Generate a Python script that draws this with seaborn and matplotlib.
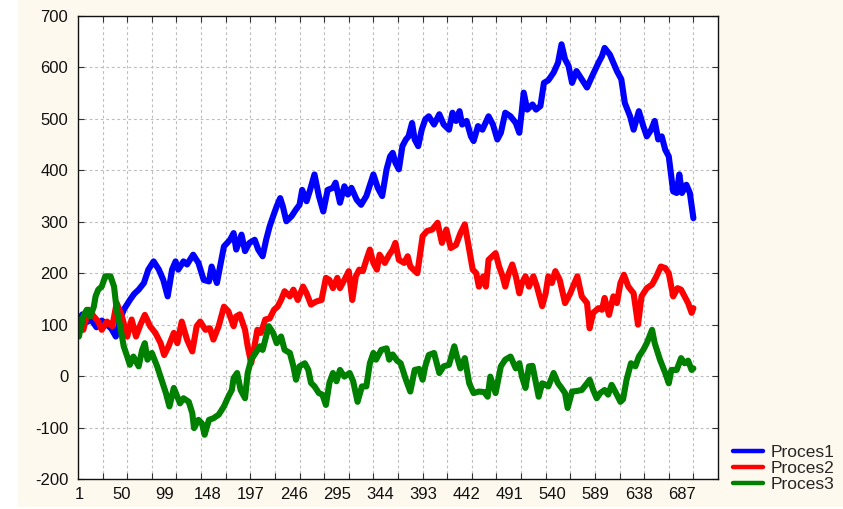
import numpy as np
import pandas as pd
import matplotlib
matplotlib.use("Agg")
import matplotlib.pyplot as plt
import seaborn as sns
from matplotlib.patches import Rectangle
from matplotlib.lines import Line2D

p1_t = [1, 5, 10, 15, 21, 27, 33, 38, 43, 48, 52, 59, 64, 69, 75, 80, 86, 92, 97, 102,
        107, 111, 114, 120, 124, 131, 137, 143, 149, 152, 158, 166, 173, 177, 180, 186, 190, 195, 201, 205,
        210, 214, 218, 222, 226, 230, 233, 237, 243, 248, 252, 255, 260, 264, 269, 274, 279, 284, 290, 293,
        298, 303, 307, 311, 317, 322, 328, 336, 341, 346, 351, 355, 358, 361, 365, 369, 373, 376, 380, 383,
        387, 391, 395, 399, 405, 411, 416, 422, 426, 430, 434, 437, 442, 447, 450, 455, 460, 467, 472, 477,
        481, 486, 492, 498, 502, 505, 507, 511, 517, 521, 526, 530, 535, 541, 546, 550, 554, 558, 562, 567,
        573, 579, 584, 592, 596, 599, 605, 609, 613, 618, 622, 628, 632, 638, 643, 647, 652, 656, 660, 664,
        668, 672, 677, 681, 684, 687, 692, 696, 700]
p1_v = [110, 120, 105, 110, 95, 108, 100, 92, 77, 110, 129, 148, 160, 168, 181, 207, 223, 207, 187, 155,
        207, 223, 207, 223, 217, 236, 220, 187, 184, 213, 181, 252, 265, 278, 246, 275, 243, 259, 265, 246,
        233, 265, 291, 311, 330, 346, 330, 301, 311, 324, 333, 362, 340, 362, 392, 350, 320, 362, 366, 376,
        337, 369, 353, 366, 343, 333, 350, 392, 366, 350, 402, 427, 434, 415, 402, 447, 460, 466, 492, 460,
        447, 479, 499, 505, 489, 509, 489, 479, 512, 496, 515, 489, 496, 466, 457, 486, 479, 505, 489, 460,
        473, 512, 505, 492, 473, 518, 551, 518, 528, 518, 525, 570, 575, 590, 609, 645, 616, 603, 570, 593,
        577, 561, 580, 609, 622, 638, 625, 609, 593, 577, 531, 505, 479, 515, 486, 466, 479, 496, 460, 466,
        440, 427, 359, 356, 392, 356, 372, 356, 307]

p2_t = [1, 6, 12, 18, 23, 27, 33, 39, 44, 50, 56, 61, 66, 71, 76, 82, 88, 94, 98, 103,
        109, 113, 118, 124, 130, 135, 139, 145, 150, 154, 160, 166, 171, 177, 180, 184, 190, 193, 197, 200,
        204, 208, 213, 218, 223, 227, 231, 235, 241, 245, 250, 256, 260, 265, 271, 277, 282, 286, 290, 295,
        298, 303, 308, 312, 316, 320, 324, 328, 332, 336, 340, 343, 349, 354, 358, 361, 365, 371, 375, 378,
        386, 392, 397, 403, 409, 414, 419, 424, 430, 435, 440, 445, 449, 453, 456, 461, 464, 467, 475, 479,
        483, 486, 490, 494, 498, 502, 505, 509, 513, 518, 522, 528, 532, 535, 539, 543, 548, 554, 560, 563,
        568, 573, 579, 582, 586, 592, 596, 599, 604, 609, 613, 617, 621, 626, 632, 637, 641, 647, 653, 658,
        663, 668, 672, 677, 682, 686, 690, 694, 698, 700]
p2_v = [110, 90, 129, 116, 106, 90, 106, 97, 142, 116, 77, 110, 77, 100, 119, 97, 84, 64, 41, 58,
        84, 64, 106, 71, 48, 97, 106, 90, 93, 71, 97, 135, 126, 97, 116, 120, 90, 58, 25, 51,
        90, 84, 110, 112, 129, 135, 148, 165, 155, 168, 148, 174, 161, 139, 145, 148, 191, 187, 171, 191,
        171, 187, 204, 148, 194, 207, 204, 226, 246, 220, 207, 236, 220, 236, 246, 259, 226, 220, 233, 213,
        200, 272, 282, 285, 298, 259, 285, 249, 255, 278, 295, 246, 207, 200, 174, 194, 174, 226, 239, 213,
        194, 174, 200, 217, 194, 161, 181, 194, 174, 194, 174, 136, 161, 194, 181, 204, 187, 142, 161, 174,
        194, 155, 142, 93, 123, 132, 129, 152, 119, 155, 142, 181, 197, 174, 161, 100, 155, 171, 178, 194,
        213, 210, 200, 155, 171, 168, 155, 142, 123, 132]

p3_t = [1, 6, 10, 14, 18, 20, 23, 27, 31, 37, 41, 44, 48, 52, 56, 59, 63, 69, 73, 76,
        79, 84, 90, 95, 100, 104, 109, 113, 116, 120, 126, 130, 132, 137, 141, 144, 149, 154, 160, 166,
        171, 175, 177, 181, 185, 190, 193, 197, 202, 207, 210, 214, 217, 222, 226, 231, 235, 241, 245, 248,
        252, 258, 262, 265, 269, 274, 278, 282, 286, 290, 294, 298, 303, 309, 313, 318, 323, 328, 332, 336,
        339, 345, 351, 354, 358, 363, 367, 373, 378, 383, 388, 392, 395, 399, 405, 411, 416, 422, 428, 431,
        435, 440, 445, 450, 456, 462, 466, 469, 475, 481, 486, 492, 498, 502, 505, 509, 513, 517, 521, 524,
        528, 531, 535, 541, 546, 550, 554, 557, 562, 567, 573, 579, 582, 586, 590, 594, 599, 603, 607, 612,
        617, 620, 624, 629, 634, 638, 643, 647, 653, 656, 662, 668, 672, 675, 681, 686, 690, 694, 698, 700]
p3_v = [77, 116, 129, 116, 135, 155, 168, 174, 194, 194, 174, 129, 97, 58, 38, 22, 38, 19, 51, 64,
        32, 45, 19, -7, -33, -59, -23, -40, -53, -43, -50, -72, -101, -85, -92, -114, -85, -82, -75, -59,
        -40, -27, -4, 6, -27, -43, 6, 32, 45, 58, 51, 77, 97, 84, 64, 77, 51, 45, 19, -7,
        19, 25, 12, -13, -20, -33, -36, -56, -13, 6, -10, 12, -1, 6, -10, -50, -20, -20, 25, 45,
        32, 51, 54, 32, 42, 30, 25, -7, -30, 12, 14, -7, 19, 41, 45, 6, 19, 22, 58, 38,
        15, 35, -14, -33, -30, -31, -40, -1, -33, 19, 32, 38, 15, 25, -1, -23, 19, 20, -14, -40,
        -14, -16, -20, 6, -14, -23, -33, -62, -30, -29, -27, -14, -7, -27, -43, -33, -27, -36, -17, -33,
        -50, -45, -7, 25, 19, 38, 51, 64, 90, 64, 32, 6, -14, 12, 12, 35, 25, 30, 12, 15]

series_names = ["Proces1", "Proces2", "Proces3"]
series_colors = ["#0000FF", "#FF0000", "#008000"]
xtick_labels = [1, 50, 99, 148, 197, 246, 295, 344, 393, 442, 491, 540, 589, 638, 687]
ytick_values = [-200, -100, 0, 100, 200, 300, 400, 500, 600, 700]

df = pd.concat([
    pd.DataFrame({"t": p1_t, "value": p1_v, "series": "Proces1"}),
    pd.DataFrame({"t": p2_t, "value": p2_v, "series": "Proces2"}),
    pd.DataFrame({"t": p3_t, "value": p3_v, "series": "Proces3"}),
], ignore_index=True)

sns.set_style("white")
plt.rcParams["font.family"] = ["Liberation Sans", "DejaVu Sans"]

W, H = 843, 509
fig = plt.figure(figsize=(W / 100, H / 100), dpi=100, facecolor="white")
fig.patches.append(Rectangle((18 / W, 1 - 507 / H), 1 - 18 / W, 507 / H,
                             transform=fig.transFigure, facecolor="#FEF9EE",
                             edgecolor="none", zorder=-10))
ax = fig.add_axes([78 / W, 1 - 479 / H, (718 - 78) / W, (479 - 16) / H])
ax.set_facecolor("white")

sns.lineplot(data=df, x="t", y="value", hue="series", hue_order=series_names,
             palette=dict(zip(series_names, series_colors)), estimator=None,
             sort=False, linewidth=4.4, ax=ax, legend=False)
for ln in ax.get_lines():
    ln.set_solid_capstyle("round")
    ln.set_solid_joinstyle("round")

ax.set_xlim(0, 728)
ax.set_ylim(-200, 700)

# grid/tick positions (major, unlabeled) and labels (minor, no tick marks)
grid_x = np.arange(28, 728, 28)
ax.set_xticks(grid_x)
ax.set_xticklabels([])
ax.set_xticks(xtick_labels, [str(v) for v in xtick_labels], minor=True)
ax.set_yticks(ytick_values, [str(v) for v in ytick_values])

ax.tick_params(axis="x", which="major", direction="in", length=4, width=0.8,
               top=True, bottom=True, color="#333333")
ax.tick_params(axis="x", which="minor", length=0, pad=6, labelsize=12, labelcolor="#111111")
ax.tick_params(axis="y", which="major", direction="in", length=4, width=0.8,
               left=True, right=True, pad=7, labelsize=12, labelcolor="#111111", color="#333333")

ax.grid(True, which="major", color="#BDBDBD", linestyle=(0, (2.5, 2.5)), linewidth=0.8)
ax.set_axisbelow(True)
for s in ax.spines.values():
    s.set_visible(True)
    s.set_color("#111111")
    s.set_linewidth(1.0)
ax.set_xlabel("")
ax.set_ylabel("")

handles = [Line2D([0], [0], color=c, linewidth=3.2, solid_capstyle="round") for c in series_colors]
fig.legend(handles, series_names, loc="upper left", bbox_to_anchor=(733 / W, 1 - 445 / H),
           frameon=False, fontsize=12.5, handlelength=1.75, handletextpad=0.4,
           labelspacing=0.05, borderpad=0, borderaxespad=0)

fig.savefig("out.png", dpi=100, facecolor=fig.get_facecolor())
